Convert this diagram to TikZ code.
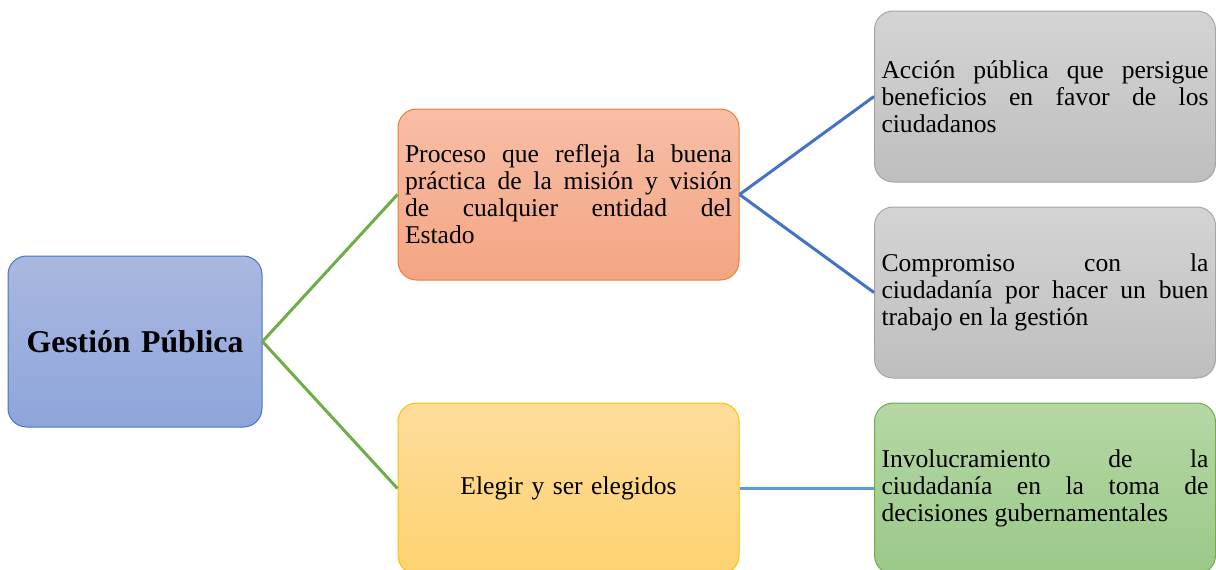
\documentclass[tikz,border=0pt]{standalone}
\usepackage{fontspec}
\setmainfont{Liberation Serif}
\usetikzlibrary{calc}

\definecolor{blueline}{HTML}{4472C4}
\definecolor{greenline}{HTML}{70AD47}
\definecolor{skyline}{HTML}{5B9BD5}

\begin{document}
\begin{tikzpicture}[
    x=0.75pt, y=-0.75pt,
    box/.style={rounded corners=14pt, line width=0.75pt,
        minimum height=128.25pt, inner xsep=5.25pt, inner ysep=0pt,
        text width=245.25pt, align=justify,
        font=\fontsize{19.2}{20.25}\selectfont},
    main box/.style={box, text width=180pt, align=center,
        draw=blueline, top color={rgb,255:red,170;green,184;blue,224},
        bottom color={rgb,255:red,142;green,165;blue,219},
        font=\fontsize{23.8}{28}\selectfont\bfseries},
    orange box/.style={box, draw={rgb,255:red,237;green,125;blue,49},
        top color={rgb,255:red,247;green,190;blue,166},
        bottom color={rgb,255:red,244;green,165;blue,131}},
    yellow box/.style={box, align=center, draw={rgb,255:red,255;green,192;blue,0},
        top color={rgb,255:red,254;green,221;blue,156},
        bottom color={rgb,255:red,254;green,210;blue,112}},
    grey box/.style={box, draw={rgb,255:red,165;green,165;blue,165},
        top color={rgb,255:red,212;green,212;blue,212},
        bottom color={rgb,255:red,190;green,190;blue,190}},
    green box/.style={box, draw=greenline,
        top color={rgb,255:red,182;green,215;blue,165},
        bottom color={rgb,255:red,154;green,201;blue,136}},
    link/.style={line width=2.25pt}
    ]
    \useasboundingbox (0,0) rectangle (1216,569);
    \clip (0,0) rectangle (1216,569);
    % Boxes
    \node[main box] (gestion) at (135,341.5) {Gestión Pública};
    \node[orange box] (proceso) at (568.5,194.5)
        {Proceso que refleja la buena\linebreak práctica de la misión y visión\linebreak de cualquier entidad del\linebreak Estado};
    \node[yellow box] (elegir) at (568.5,488.5) {Elegir y ser elegidos};
    \node[grey box] (accion) at (1045,96.5)
        {Acción pública que persigue\linebreak beneficios en favor de los\linebreak ciudadanos};
    \node[grey box] (compromiso) at (1045,292.5)
        {Compromiso con la\linebreak ciudadanía por hacer un buen\linebreak trabajo en la gestión};
    \node[green box] (involucra) at (1045,488.5)
        {Involucramiento de la\linebreak ciudadanía en la toma de\linebreak decisiones gubernamentales};
    % Lines
    \draw[link, greenline] (gestion.east) -- (proceso.west);
    \draw[link, greenline] (gestion.east) -- (elegir.west);
    \draw[link, blueline] (proceso.east) -- (accion.west);
    \draw[link, blueline] (proceso.east) -- (compromiso.west);
    \draw[link, skyline] (elegir.east) -- (involucra.west);
\end{tikzpicture}
\end{document}
